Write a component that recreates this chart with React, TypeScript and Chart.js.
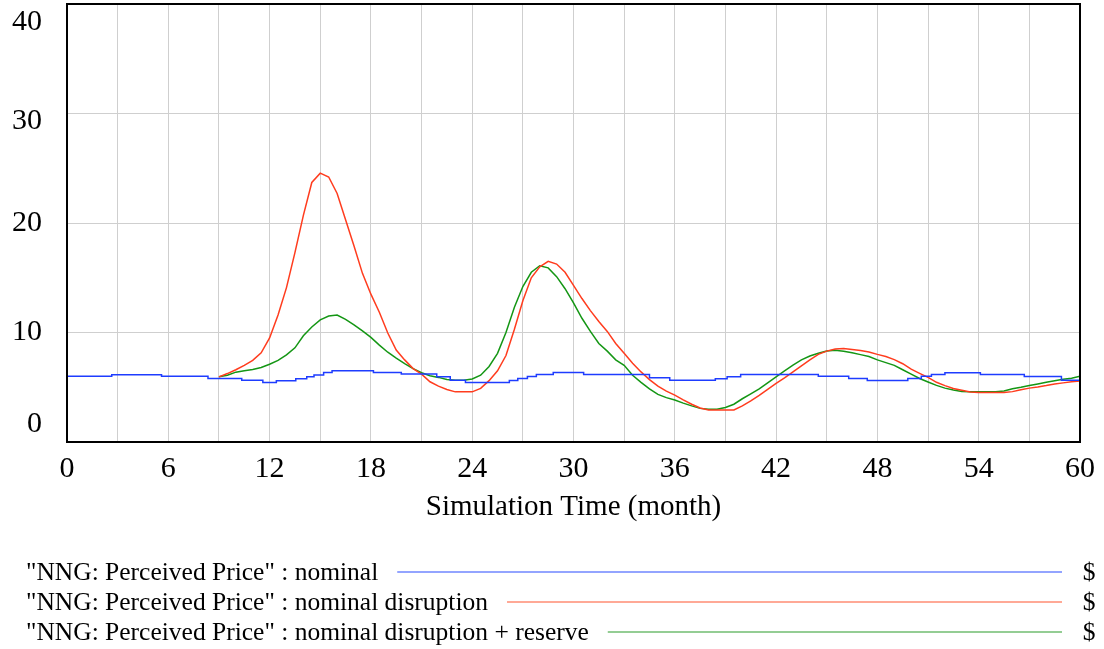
import React, { useEffect, useRef } from "react";
import { Chart, registerables } from "chart.js";

Chart.register(...registerables);

// ---- data ----
const xTickValues = [0, 6, 12, 18, 24, 30, 36, 42, 48, 54, 60];
const yTickValues = [40, 30, 20, 10, 0];
const xAxisTitle = "Simulation Time (month)";
const seriesNames = [
  '"NNG: Perceived Price" : nominal',
  '"NNG: Perceived Price" : nominal disruption',
  '"NNG: Perceived Price" : nominal disruption + reserve',
];
const unitLabel = "$";

// nominal: times at which the stepped value changes, and the new value
const nominalTimes = [0, 2.65, 5.6, 8.35, 10.35, 11.6, 12.4, 13.55, 14.2, 14.63, 15.2, 15.7, 18.15, 19.8, 21.9, 22.7, 23.6, 26.2, 26.7, 27.27, 27.8, 28.8, 30.6, 34.5, 35.7, 38.4, 39.1, 39.9, 44.5, 46.3, 47.4, 49.8, 50.6, 51.2, 52.0, 54.1, 56.7, 58.9, 60];
const nominalValues = [6.0, 6.15, 6.0, 5.8, 5.63, 5.44, 5.6, 5.77, 5.97, 6.12, 6.35, 6.5, 6.35, 6.2, 5.95, 5.65, 5.44, 5.62, 5.8, 5.98, 6.17, 6.35, 6.17, 5.86, 5.65, 5.77, 5.95, 6.17, 6.0, 5.8, 5.62, 5.8, 6.0, 6.17, 6.32, 6.17, 5.98, 5.65, 5.65];

// disruption runs: sampled every half month from month 9 to month 60
const disruptionStart = 9;
const halfMonthTimes = Array.from({ length: 103 }, (_, i) => disruptionStart + i * 0.5);
const disruptionValues = [
  5.95, 6.25, 6.6, 7.0, 7.45, 8.15, 9.5, 11.6, 14.1, 17.3,
  20.7, 23.7, 24.55, 24.2, 22.7, 20.3, 17.9, 15.4, 13.5, 11.85,
  9.95, 8.4, 7.5, 6.7, 6.2, 5.5, 5.1, 4.8, 4.58, 4.58,
  4.58, 4.9, 5.6, 6.5, 7.9, 10.3, 12.9, 15.0, 16.0, 16.5,
  16.25, 15.5, 14.3, 13.1, 12.0, 11.0, 10.1, 9.0, 8.1, 7.2,
  6.4, 5.7, 5.1, 4.65, 4.28, 3.85, 3.45, 3.1, 2.92, 2.92,
  2.92, 2.92, 3.3, 3.75, 4.25, 4.8, 5.35, 5.85, 6.4, 6.95,
  7.5, 8.0, 8.3, 8.5, 8.54, 8.45, 8.36, 8.22, 8.0, 7.8,
  7.52, 7.15, 6.65, 6.27, 5.9, 5.45, 5.15, 4.89, 4.72, 4.56,
  4.53, 4.53, 4.53, 4.53, 4.6, 4.78, 4.92, 5.02, 5.15, 5.3,
  5.4, 5.5, 5.58,
];
const reserveValues = [
  5.95, 6.1, 6.38, 6.5, 6.63, 6.8, 7.1, 7.45, 7.95, 8.6,
  9.7, 10.5, 11.15, 11.5, 11.6, 11.2, 10.7, 10.15, 9.55, 8.85,
  8.2, 7.65, 7.15, 6.7, 6.32, 6.05, 5.9, 5.7, 5.65, 5.65,
  5.75, 6.1, 6.9, 8.1, 10.0, 12.3, 14.2, 15.5, 16.1, 15.9,
  15.1, 14.0, 12.7, 11.3, 10.1, 9.0, 8.3, 7.5, 7.0, 6.1,
  5.45, 4.85, 4.35, 4.05, 3.83, 3.55, 3.3, 3.07, 3.0, 3.0,
  3.15, 3.45, 3.95, 4.4, 4.85, 5.4, 5.95, 6.5, 7.02, 7.5,
  7.85, 8.1, 8.3, 8.38, 8.28, 8.15, 7.98, 7.8, 7.5, 7.25,
  7.0, 6.6, 6.2, 5.8, 5.48, 5.17, 4.92, 4.74, 4.62, 4.58,
  4.58, 4.58, 4.58, 4.65, 4.87, 5.0, 5.15, 5.3, 5.45, 5.6,
  5.72, 5.82, 6.0,
];

// ---- styles ----
const lineColors = ["#1e3cff", "#ff3c1e", "#149614"];
const legendColors = ["#6f86ff", "#ff8c73", "#70bd70"];
const FONT = '"Liberation Serif", "Times New Roman", serif';

const overlayPlugin = {
  id: "vensimOverlay",
  afterDraw(chart: any) {
    const { ctx, chartArea: a } = chart;
    const xs = chart.scales.x;
    const ys = chart.scales.y;
    ctx.save();
    // frame
    ctx.strokeStyle = "#000";
    ctx.lineWidth = 2;
    ctx.strokeRect(a.left, a.top, a.right - a.left, a.bottom - a.top);

    ctx.fillStyle = "#000";
    ctx.textBaseline = "middle";
    // y labels (Vensim nudges the extreme labels inside the frame)
    const yNudge = [18, 8, 0, 0, -18];
    ctx.font = `30px ${FONT}`;
    ctx.textAlign = "right";
    yTickValues.forEach((v, i) => {
      ctx.fillText(String(v), 42, ys.getPixelForValue(v) + yNudge[i]);
    });
    // x labels
    ctx.textAlign = "center";
    xTickValues.forEach((v) => {
      ctx.fillText(String(v), xs.getPixelForValue(v), a.bottom + 27);
    });
    // x title
    ctx.font = `29px ${FONT}`;
    ctx.fillText(xAxisTitle, (a.left + a.right) / 2, a.bottom + 65);

    // legend
    ctx.font = `25.5px ${FONT}`;
    const rowY = [572, 602, 632];
    seriesNames.forEach((name, i) => {
      ctx.textAlign = "left";
      ctx.fillStyle = "#000";
      ctx.fillText(name, 26, rowY[i] + 1);
      const w = ctx.measureText(name).width;
      ctx.strokeStyle = legendColors[i];
      ctx.lineWidth = 1.6;
      ctx.beginPath();
      ctx.moveTo(26 + w + 19, rowY[i]);
      ctx.lineTo(1062, rowY[i]);
      ctx.stroke();
      ctx.textAlign = "center";
      ctx.fillText(unitLabel, 1089, rowY[i] + 1);
    });
    ctx.restore();
  },
};

export default function App() {
  const ref = useRef<HTMLCanvasElement | null>(null);

  useEffect(() => {
    document.body.style.margin = "0";
    const canvas = ref.current;
    if (!canvas) return;
    const chart = new Chart(canvas, {
      type: "line",
      data: {
        datasets: [
          {
            label: seriesNames[0],
            data: nominalTimes.map((t, i) => ({ x: t, y: nominalValues[i] })),
            borderColor: lineColors[0],
            borderWidth: 1.5,
            pointRadius: 0,
            stepped: "before",
            fill: false,
          },
          {
            label: seriesNames[1],
            data: halfMonthTimes.map((t, i) => ({ x: t, y: disruptionValues[i] })),
            borderColor: lineColors[1],
            borderWidth: 1.5,
            pointRadius: 0,
            tension: 0,
            fill: false,
          },
          {
            label: seriesNames[2],
            data: halfMonthTimes.map((t, i) => ({ x: t, y: reserveValues[i] })),
            borderColor: lineColors[2],
            borderWidth: 1.5,
            pointRadius: 0,
            tension: 0,
            fill: false,
          },
        ],
      },
      options: {
        responsive: false,
        animation: false,
        events: [],
        layout: { padding: { left: 67, top: 4, right: 24, bottom: 207 } },
        plugins: { legend: { display: false }, tooltip: { enabled: false } },
        scales: {
          x: {
            type: "linear",
            min: 0,
            max: 60,
            ticks: { display: false, stepSize: 3 },
            grid: { color: "#cfcfcf", lineWidth: 1, drawTicks: false },
            border: { display: false },
            title: { display: false },
          },
          y: {
            type: "linear",
            min: 0,
            max: 40,
            ticks: { display: false, stepSize: 10 },
            grid: { color: "#cfcfcf", lineWidth: 1, drawTicks: false },
            border: { display: false },
            title: { display: false },
          },
        },
      },
      plugins: [overlayPlugin],
    });
    return () => chart.destroy();
  }, []);

  return (
    <canvas
      ref={ref}
      width={1104}
      height={649}
      style={{ display: "block", width: 1104, height: 649 }}
    />
  );
}
